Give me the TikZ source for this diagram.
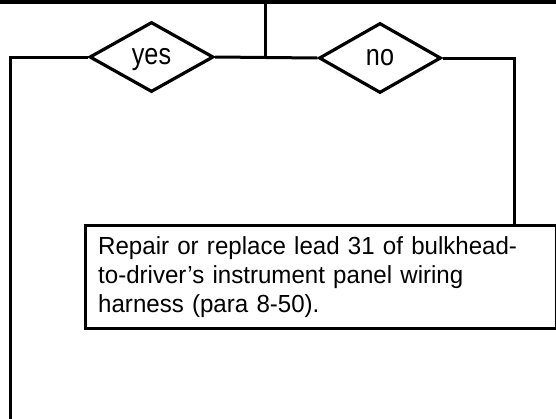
\documentclass[tikz,border=0pt]{standalone}
\usepackage{fontspec}
\setmainfont{Liberation Sans}
\usetikzlibrary{shapes.geometric}
\tikzset{
  wire/.style={line width=3pt, line join=miter},
  choice/.style={diamond, draw, line width=3.2pt, inner sep=0pt,
    text height=15.6pt, text depth=0pt,
    font=\fontsize{30}{30}\selectfont\addfontfeature{FakeStretch=0.84}},
  actionbox/.style={draw, line width=3.4pt, rectangle, align=left, inner xsep=13pt,
    text width=445pt,
    font=\fontsize{24.7}{29}\selectfont\addfontfeature{FakeStretch=0.975}, anchor=north west}
}
\begin{document}
\begin{tikzpicture}[x=1pt,y=-1pt]
\useasboundingbox (0,0) rectangle (556,418);
\coordinate (tl) at (0,2);
\coordinate (tr) at (556,2);
\draw[line width=4.5pt] (tl) -- (tr);
\node[choice, minimum width=124pt, minimum height=70pt] (yes) at (151.5,57) {yes};
\node[choice, minimum width=122pt, minimum height=70pt] (no) at (380,58) {no};
\coordinate (stemtop) at (265,2);
\coordinate (stembot) at (265,57.5);
\draw[wire] (stemtop) -- (stembot);
\draw[wire] (yes.east) -- (no.west);
\node[actionbox, minimum height=103pt] (fix) at (83.5,223.5)
  {Repair or replace lead 31 of bulkhead-\\to-driver’s instrument panel wiring\\harness (para 8-50).};
\coordinate (lcorner) at (10,57);
\coordinate (lbot) at (10,420);
\draw[wire] (yes.west) -- (lcorner) -- (lbot);
\coordinate (rcorner) at (514,58);
\draw[wire] (no.east) -- (rcorner) -- (rcorner |- fix.north);
\end{tikzpicture}
\end{document}
